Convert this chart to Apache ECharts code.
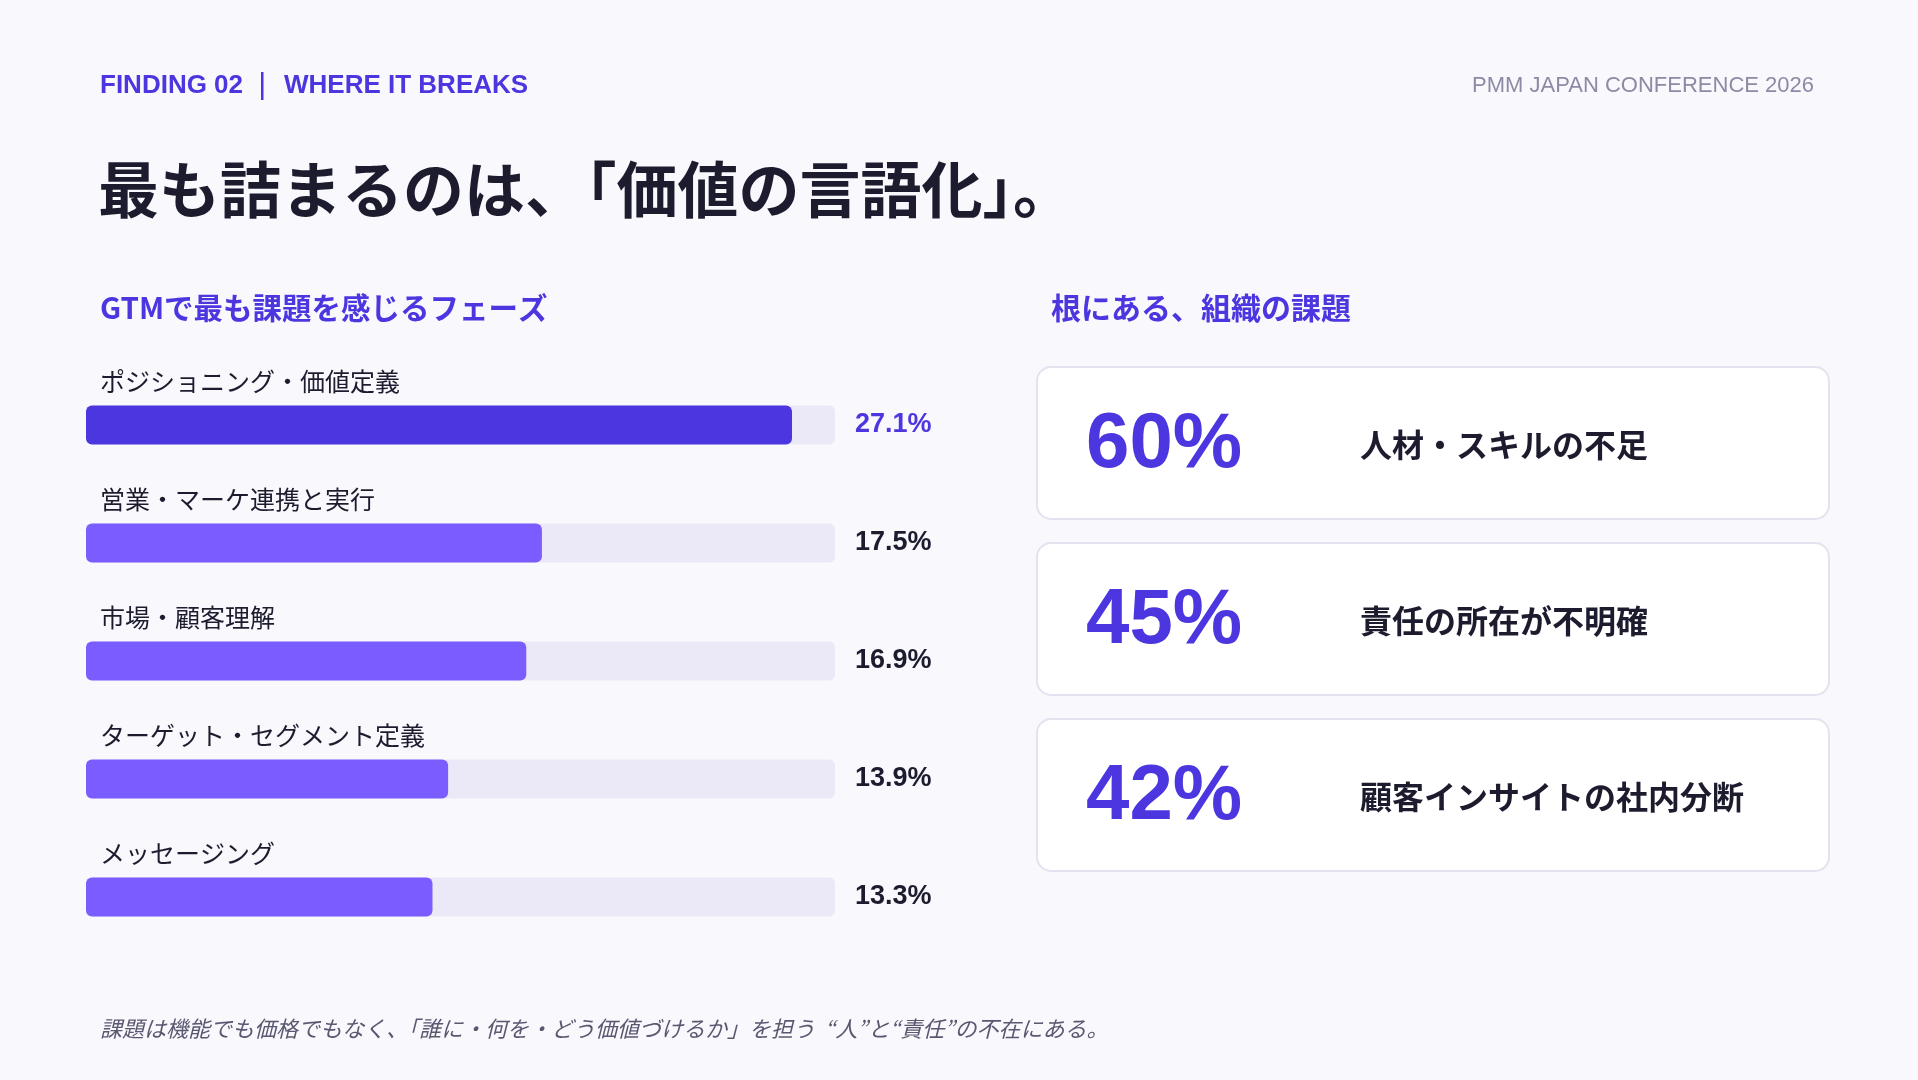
<!DOCTYPE html>
<html>
<head>
<meta charset="utf-8">
<title>Finding 02</title>
<script src="https://cdn.jsdelivr.net/npm/echarts@6/dist/echarts.min.js"></script>
<style>
    html, body { margin: 0; padding: 0; background: #f8f8fd; }
    #chart { width: 1918px; height: 1080px; }
</style>
</head>
<body>
<div id="chart"></div>
<script>
// GTMフェーズ別の課題感(%)
const phases = ['ポジショニング・価値定義', '営業・マーケ連携と実行', '市場・顧客理解', 'ターゲット・セグメント定義', 'メッセージング'];
const phaseShares = [27.1, 17.5, 16.9, 13.9, 13.3];
const shareMax = 28.75;

// 組織の課題
const issueRates = [60, 45, 42];
const issueLabels = ['人材・スキルの不足', '責任の所在が不明確', '顧客インサイトの社内分断'];

const INDIGO = '#4b36df';
const VIOLET = '#7b5cff';
const TRACK = '#ebe9f7';
const INK = '#1d1c2e';
const LATIN = '"Liberation Sans", Arial, "Noto Sans CJK JP", sans-serif';
const CJK = '"Noto Sans CJK JP", "Liberation Sans", sans-serif';

let chart = echarts.init(document.getElementById('chart'));

// 右側カード
let cards = [];
const cardTop = 367, cardStep = 176, cardH = 152;
for (let i = 0; i < issueRates.length; i++) {
    let y = cardTop + i * cardStep;
    cards.push({
        type: 'rect',
        shape: { x: 1037, y: y, width: 792, height: cardH, r: 14 },
        style: { fill: '#ffffff', stroke: '#e4e2ef', lineWidth: 2 }
    });
    cards.push({
        type: 'text',
        x: 1086, y: y + cardH / 2 + 2,
        style: {
            text: issueRates[i] + '%',
            fill: INDIGO,
            font: 'bold 78px ' + LATIN,
            textVerticalAlign: 'middle'
        }
    });
    cards.push({
        type: 'text',
        x: 1360, y: y + cardH / 2 + 2,
        style: {
            text: issueLabels[i],
            fill: INK,
            font: 'bold 32px ' + CJK,
            textVerticalAlign: 'middle'
        }
    });
}

let option = {
    backgroundColor: '#f8f8fd',
    animation: false,
    grid: { left: 86, top: 366, width: 749, height: 590 },
    xAxis: { type: 'value', min: 0, max: shareMax, show: false },
    yAxis: { type: 'category', data: phases, inverse: true, show: false },
    graphic: [
        {
            type: 'text', x: 100, y: 86,
            style: { text: 'FINDING 02', fill: INDIGO, font: 'bold 26px ' + LATIN, textVerticalAlign: 'middle' }
        },
        {
            type: 'rect',
            shape: { x: 261, y: 72, width: 2.5, height: 28 },
            style: { fill: INDIGO }
        },
        {
            type: 'text', x: 284, y: 86,
            style: { text: 'WHERE IT BREAKS', fill: INDIGO, font: 'bold 26px ' + LATIN, textVerticalAlign: 'middle' }
        },
        {
            type: 'text', x: 1814, y: 86,
            style: { text: 'PMM JAPAN CONFERENCE 2026', fill: '#8d8aa5', font: '22px ' + LATIN, textAlign: 'right', textVerticalAlign: 'middle' }
        },
        {
            type: 'text', x: 98, y: 190,
            style: { text: '最も詰まるのは、「価値の言語化」。', fill: INK, font: 'bold 61px ' + CJK, textVerticalAlign: 'middle' }
        },
        {
            type: 'text', x: 100, y: 308,
            style: { text: 'GTMで最も課題を感じるフェーズ', fill: INDIGO, font: 'bold 29.5px ' + CJK, textVerticalAlign: 'middle' }
        },
        {
            type: 'text', x: 1051, y: 308,
            style: { text: '根にある、組織の課題', fill: INDIGO, font: 'bold 30px ' + CJK, textVerticalAlign: 'middle' }
        },
        {
            type: 'text', x: 100, y: 1029,
            style: {
                text: '課題は機能でも価格でもなく、「誰に・何を・どう価値づけるか」を担う  “人”と“責任”の不在にある。',
                fill: '#5a5870', font: 'italic 22px ' + CJK, textVerticalAlign: 'middle'
            }
        }
    ].concat(cards),
    series: [
        {
            // トラック
            type: 'bar',
            silent: true,
            barWidth: 39,
            data: phaseShares.map((v, i) => ({
                value: shareMax,
                label: { color: i === 0 ? INDIGO : INK }
            })),
            itemStyle: { color: TRACK, borderRadius: 6 },
            label: {
                show: true,
                position: 'right',
                distance: 20,
                fontFamily: LATIN,
                fontWeight: 'bold',
                fontSize: 27,
                formatter: (p) => phaseShares[p.dataIndex].toFixed(1) + '%'
            },
            z: 1
        },
        {
            type: 'bar',
            barWidth: 39,
            barGap: '-100%',
            data: phaseShares.map((v, i) => ({
                value: v,
                itemStyle: { color: i === 0 ? INDIGO : VIOLET }
            })),
            itemStyle: { borderRadius: 6 },
            label: {
                show: true,
                position: [14, -37],
                formatter: '{b}',
                fontFamily: CJK,
                fontSize: 25,
                color: INK
            },
            z: 2
        }
    ]
};

chart.setOption(option);

window.addEventListener('resize', () => chart.resize());
</script>
</body>
</html>
